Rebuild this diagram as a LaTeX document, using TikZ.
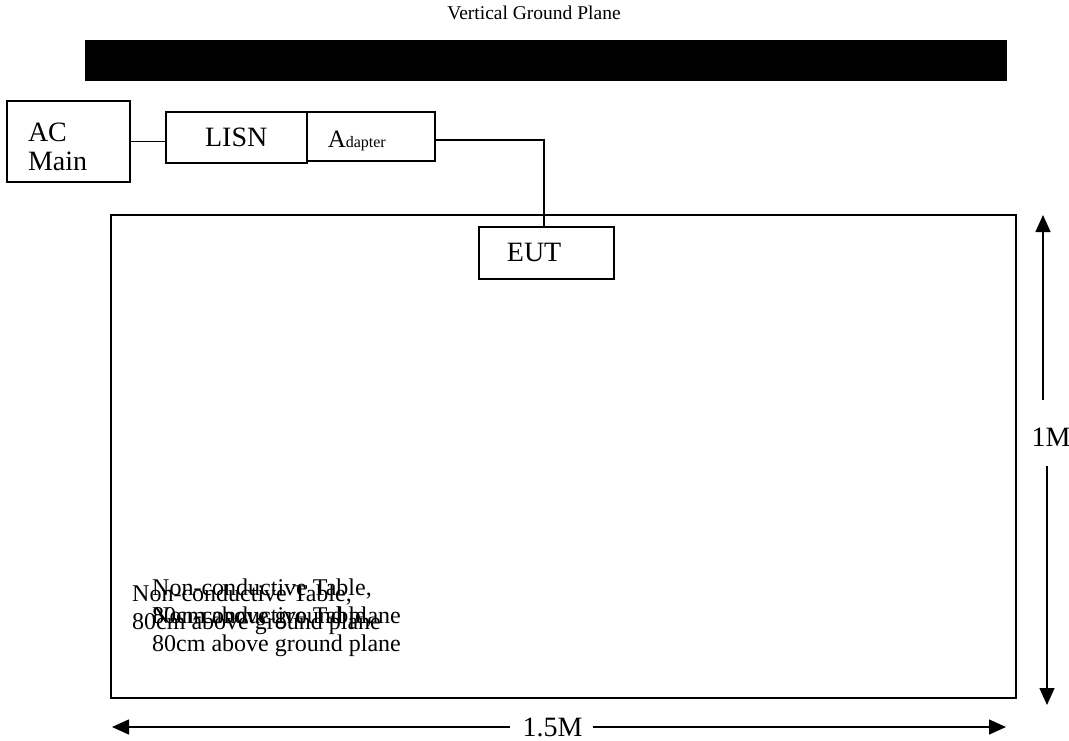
\documentclass[tikz,border=0pt]{standalone}
\usepackage{fontspec}
\setmainfont{Liberation Serif}
\usetikzlibrary{arrows.meta}

\tikzset{
	unitbox/.style={draw, line width=1.8pt, inner sep=0pt},
	wire/.style={line width=1.5pt},
	dimline/.style={line width=1.5pt, -{Triangle[length=17pt,width=15pt]}},
	lbl/.style={font=\fontsize{28}{29}\selectfont, inner sep=0pt},
	tbltext/.style={font=\fontsize{24}{28.5}\selectfont, align=left, anchor=north west, inner sep=0pt}
}

\begin{document}
\begin{tikzpicture}[x=1pt, y=-1pt]
	\useasboundingbox (0, 0) rectangle (1069, 740);
	% ground plane
	\node[fill=black, minimum width=922pt, minimum height=41pt, inner sep=0pt] (vgp) at (546, 60.5) {};
	\node[font=\fontsize{19.5}{22}\selectfont, inner sep=0pt] (vgplabel) at (534, 13) {Vertical Ground Plane};
	% table
	\node[draw, line width=1.8pt, minimum width=905pt, minimum height=483pt, inner sep=0pt] (table) at (563.5, 456.5) {};
	\node[tbltext] (tabletexta) at (132, 584.6) {Non-conductive Table,\\80cm above ground plane};
	\node[tbltext] (tabletextb) at (152, 578.6) {Non-conductive Table,\\80cm above ground plane};
	\node[tbltext] (tabletextc) at (152, 606.6) {Non-conductive Table,\\80cm above ground plane};
	% units
	\node[unitbox, lbl, minimum width=123pt, minimum height=81pt, text width=81pt, align=left, text depth=18pt] (acmain) at (68.5, 141.5) {AC\\Main};
	\node[unitbox, lbl, minimum width=140.7pt, minimum height=50.7pt, anchor=north west] (lisn) at (165, 111) {LISN};
	\node[unitbox, minimum width=128.3pt, minimum height=49pt, anchor=north west, text width=86pt, align=left, text height=23pt, text depth=0pt] (adapter) at (305.7, 111) {\fontsize{25}{28}\selectfont A\fontsize{16}{18}\selectfont dapter};
	\node[unitbox, lbl, minimum width=135pt, minimum height=52pt, anchor=north west, text width=79pt, align=left] (eut) at (478, 226) {EUT};
	% cables
	\draw[wire] (acmain.east) -- (acmain.east -| lisn.west);
	\coordinate (bend) at (544, 140);
	\draw[wire] (adapter.east |- bend) -- (bend) -- (bend |- eut.north);
	% dimensions
	\coordinate (htop) at (1043, 215);
	\coordinate (hbot) at (1047, 705);
	\node[lbl] (hlabel) at (1051, 437) {1M};
	\draw[dimline] ([yshift=28pt]hlabel.north -| htop) -- (htop);
	\draw[dimline] ([yshift=-20pt]hlabel.south -| hbot) -- (hbot);
	\coordinate (wleft) at (112, 727);
	\coordinate (wright) at (1006, 727);
	\node[lbl] (wlabel) at (552.5, 727) {1.5M};
	\draw[dimline] ([xshift=-12pt]wlabel.west) -- (wleft);
	\draw[dimline] ([xshift=10pt]wlabel.east) -- (wright);
\end{tikzpicture}
\end{document}
